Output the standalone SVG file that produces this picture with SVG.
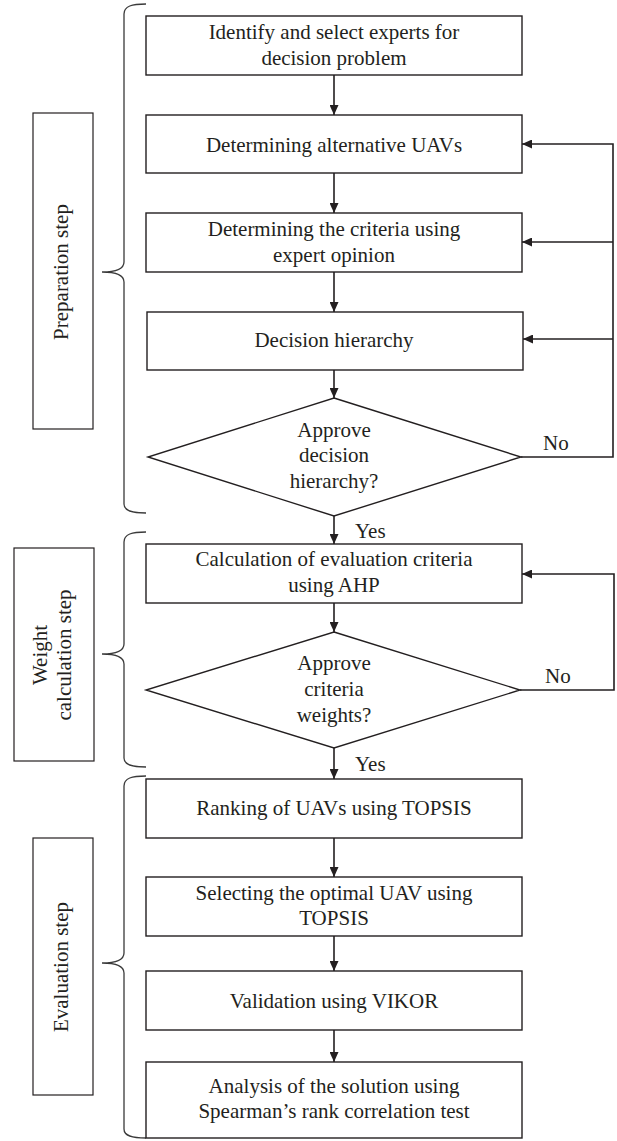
<svg xmlns="http://www.w3.org/2000/svg" width="617" height="1141" viewBox="0 0 617 1141">
<defs>
<style>
.box{fill:#fff;stroke:#231f20;stroke-width:1.4}
.lbl{fill:#fff;stroke:#231f20;stroke-width:1.2}
.brace{fill:none;stroke:#3a3a3a;stroke-width:1.3}
.t{font-family:"Liberation Serif","Times New Roman",serif;font-size:21px;fill:#231f20;text-anchor:middle}
.s{font-family:"Liberation Serif","Times New Roman",serif;font-size:21px;fill:#231f20}
.c{fill:none;stroke:#231f20;stroke-width:1.6}
</style>
<marker id="ah" markerUnits="userSpaceOnUse" markerWidth="10" markerHeight="9" refX="10" refY="4.5" orient="auto">
<path d="M0,0 L10,4.5 L0,9 z" fill="#231f20"/>
</marker>
</defs>
<rect width="617" height="1141" fill="#fff"/>

<g id="braces">
<path class="brace" d="M146,4 C132,4 124,6 124,14 L124,262 C124,268 118,272 102,272 C118,272 124,276 124,282 L124,504 C124,511 132,513 146,513"/>
<path class="brace" d="M146,532 C132,532 124,534 124,542 L124,644 C124,650 118,654 102,654 C118,654 124,658 124,664 L124,758 C124,765 132,767 146,767"/>
<path class="brace" d="M146,776 C132,776 124,778 124,786 L124,953 C124,959 118,963 102,963 C118,963 124,967 124,973 L124,1129 C124,1136 132,1138 146,1138"/>
</g>

<g id="stage-preparation">
<rect class="lbl" x="33" y="113" width="60" height="316"/>
<text class="t" transform="translate(68,272) rotate(-90)">Preparation step</text>
</g>
<g id="stage-weight">
<rect class="lbl" x="14" y="548" width="80" height="213"/>
<text class="t" transform="translate(47,655) rotate(-90)">Weight</text>
<text class="t" transform="translate(71,655) rotate(-90)">calculation step</text>
</g>
<g id="stage-evaluation">
<rect class="lbl" x="33" y="838" width="60" height="257"/>
<text class="t" transform="translate(68,967) rotate(-90)">Evaluation step</text>
</g>

<g id="connectors">
<line class="c" x1="334" y1="75" x2="334" y2="115" marker-end="url(#ah)"/>
<line class="c" x1="334" y1="173" x2="334" y2="213" marker-end="url(#ah)"/>
<line class="c" x1="334" y1="272" x2="334" y2="312" marker-end="url(#ah)"/>
<line class="c" x1="334" y1="370" x2="334" y2="398" marker-end="url(#ah)"/>
<line class="c" x1="334" y1="516" x2="334" y2="544" marker-end="url(#ah)"/>
<line class="c" x1="334" y1="603" x2="334" y2="632" marker-end="url(#ah)"/>
<line class="c" x1="334" y1="748" x2="334" y2="779" marker-end="url(#ah)"/>
<line class="c" x1="334" y1="838" x2="334" y2="877" marker-end="url(#ah)"/>
<line class="c" x1="334" y1="936" x2="334" y2="971" marker-end="url(#ah)"/>
<line class="c" x1="334" y1="1030" x2="334" y2="1062" marker-end="url(#ah)"/>
<polyline class="c" points="521,457 613,457 613,144 522,144" marker-end="url(#ah)"/>
<line class="c" x1="613" y1="242" x2="522" y2="242" marker-end="url(#ah)"/>
<line class="c" x1="613" y1="339" x2="523" y2="339" marker-end="url(#ah)"/>
<polyline class="c" points="520,690 614,690 614,574 522,574" marker-end="url(#ah)"/>
<text class="s" x="543" y="450">No</text>
<text class="s" x="545" y="683">No</text>
<text class="s" x="355" y="538">Yes</text>
<text class="s" x="355" y="771">Yes</text>
</g>

<g id="n1">
<rect class="box" x="146" y="16" width="376" height="59"/>
<text class="t" x="334" y="39">Identify and select experts for</text>
<text class="t" x="334" y="65">decision problem</text>
</g>
<g id="n2">
<rect class="box" x="146" y="115" width="376" height="58"/>
<text class="t" x="334" y="152">Determining alternative UAVs</text>
</g>
<g id="n3">
<rect class="box" x="146" y="213" width="376" height="59"/>
<text class="t" x="334" y="236">Determining the criteria using</text>
<text class="t" x="334" y="262">expert opinion</text>
</g>
<g id="n4">
<rect class="box" x="147" y="312" width="376" height="58"/>
<text class="t" x="334" y="347">Decision hierarchy</text>
</g>
<g id="d1">
<polygon class="box" points="334,398 521,457 334,516 148,457"/>
<text class="t" x="334" y="437">Approve</text>
<text class="t" x="334" y="462">decision</text>
<text class="t" x="334" y="488">hierarchy?</text>
</g>
<g id="n5">
<rect class="box" x="146" y="544" width="376" height="59"/>
<text class="t" x="334" y="566">Calculation of evaluation criteria</text>
<text class="t" x="334" y="592">using AHP</text>
</g>
<g id="d2">
<polygon class="box" points="334,632 520,690 334,748 146,690"/>
<text class="t" x="334" y="670">Approve</text>
<text class="t" x="334" y="696">criteria</text>
<text class="t" x="334" y="722">weights?</text>
</g>
<g id="n6">
<rect class="box" x="146" y="779" width="376" height="59"/>
<text class="t" x="334" y="815">Ranking of UAVs using TOPSIS</text>
</g>
<g id="n7">
<rect class="box" x="146" y="877" width="376" height="59"/>
<text class="t" x="334" y="900">Selecting the optimal UAV using</text>
<text class="t" x="334" y="925">TOPSIS</text>
</g>
<g id="n8">
<rect class="box" x="146" y="971" width="376" height="59"/>
<text class="t" x="334" y="1008">Validation using VIKOR</text>
</g>
<g id="n9">
<rect class="box" x="146" y="1062" width="376" height="76"/>
<text class="t" x="334" y="1093">Analysis of the solution using</text>
<text class="t" x="334" y="1118">Spearman’s rank correlation test</text>
</g>
</svg>
